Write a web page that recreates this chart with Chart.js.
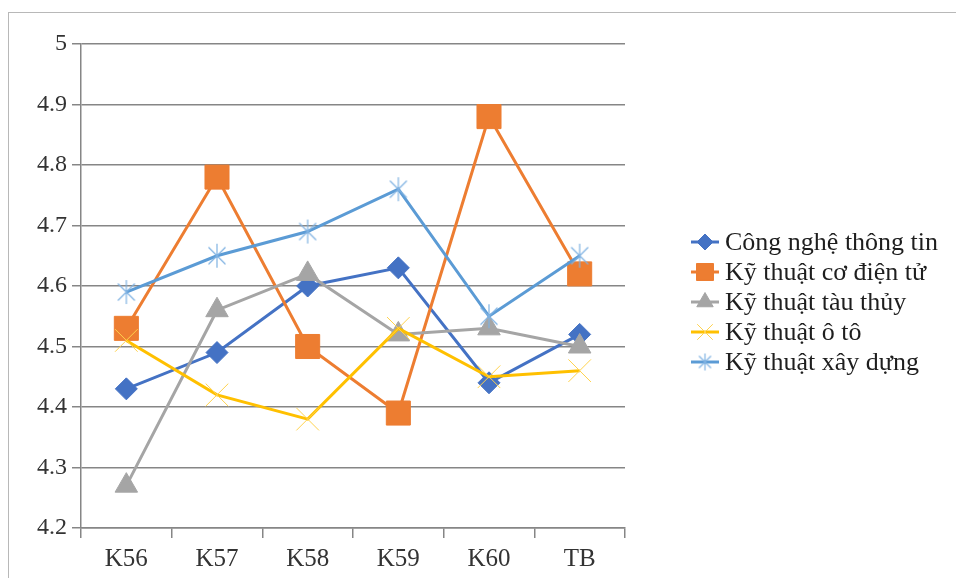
<!DOCTYPE html>
<html>
<head>
<meta charset="utf-8">
<script src="https://cdn.jsdelivr.net/npm/chart.js@4/dist/chart.umd.min.js"></script>
<style>
  html, body { margin: 0; padding: 0; background: #fff; }
  #wrap { width: 956px; height: 578px; position: relative; }
</style>
</head>
<body>
<div id="wrap"><canvas id="c" width="956" height="578"></canvas></div>
<script>
// Cohorts and the average column
const categories = ['K56', 'K57', 'K58', 'K59', 'K60', 'TB'];
const seriesNames = [
  'Công nghệ thông tin',
  'Kỹ thuật cơ điện tử',
  'Kỹ thuật tàu thủy',
  'Kỹ thuật ô tô',
  'Kỹ thuật xây dựng'
];
const cnttValues     = [4.43, 4.49, 4.60, 4.63, 4.44, 4.52];
const coDienTuValues = [4.53, 4.78, 4.50, 4.39, 4.88, 4.62];
const tauThuyValues  = [4.27, 4.56, 4.62, 4.52, 4.53, 4.50];
const otoValues      = [4.51, 4.42, 4.38, 4.53, 4.45, 4.46];
const xayDungValues  = [4.59, 4.65, 4.69, 4.76, 4.55, 4.65];
const yTickLabels = ['4.2', '4.3', '4.4', '4.5', '4.6', '4.7', '4.8', '4.9', '5'];

const FONT = 'Liberation Serif, Times New Roman, serif';
const GRID = '#868686';

// Asterisk marker: an X with a vertical bar
function makeStar(color, r) {
  const s = Math.ceil(r * 2 + 4);
  const cv = document.createElement('canvas');
  cv.width = s; cv.height = s;
  const g = cv.getContext('2d');
  const c = s / 2, d = r * Math.SQRT1_2;
  g.strokeStyle = color; g.lineWidth = 1.2;
  g.beginPath();
  g.moveTo(c, c - r); g.lineTo(c, c + r);
  g.moveTo(c - d, c - d); g.lineTo(c + d, c + d);
  g.moveTo(c - d, c + d); g.lineTo(c + d, c - d);
  g.stroke();
  return cv;
}
const starBig = makeStar('#7fb2e2', 12);
const starSmall = makeStar('#7fb2e2', 8.5);

const seriesStyle = [
  { color: '#4472C4', pointStyle: 'rectRot',  r: 11,  lr: 8,   bw: 1 },
  { color: '#ED7D31', pointStyle: 'rect',     r: 17,  lr: 12,  bw: 1 },
  { color: '#A5A5A5', pointStyle: 'triangle', r: 13,  lr: 9.5, bw: 1 },
  { color: '#FFC000', pointStyle: 'crossRot', r: 16,  lr: 11,  bw: 1, pointColor: '#ffd24d' },
  { color: '#5B9BD5', pointStyle: starBig,    r: 12,  lr: 8.5, bw: 1, legendImg: starSmall }
];
const seriesValues = [cnttValues, coDienTuValues, tauThuyValues, otoValues, xayDungValues];

const datasets = seriesValues.map((vals, i) => {
  const st = seriesStyle[i];
  return {
    label: seriesNames[i],
    data: vals,
    borderColor: st.color,
    backgroundColor: st.color,
    borderWidth: 3,
    pointStyle: st.pointStyle,
    pointRadius: st.r,
    pointHoverRadius: st.r,
    pointBorderWidth: st.bw,
    pointBackgroundColor: st.color,
    pointBorderColor: st.pointColor || st.color,
    tension: 0,
    order: seriesValues.length - i
  };
});

// Light outer frame
const framePlugin = {
  id: 'frame',
  beforeDraw(chart) {
    const ctx = chart.ctx;
    ctx.save();
    ctx.strokeStyle = '#b8b8b8';
    ctx.lineWidth = 1;
    ctx.strokeRect(8.5, 12.5, chart.width, chart.height);
    ctx.restore();
  }
};

// Legend on the right: short line with the series marker, then the name
const sideLegend = {
  id: 'sideLegend',
  afterDraw(chart) {
    const ctx = chart.ctx;
    const area = chart.chartArea;
    const x0 = area.right + 66, x1 = area.right + 94, tx = area.right + 100;
    const yStart = 242, step = 30;
    ctx.save();
    chart.data.datasets.forEach((ds, i) => {
      const st = seriesStyle[i];
      const y = yStart + i * step;
      ctx.strokeStyle = st.color;
      ctx.lineWidth = 3;
      ctx.beginPath();
      ctx.moveTo(x0, y); ctx.lineTo(x1, y);
      ctx.stroke();
      const cx = (x0 + x1) / 2;
      if (st.legendImg) {
        ctx.drawImage(st.legendImg, cx - st.legendImg.width / 2, y - st.legendImg.height / 2);
      } else {
        ctx.fillStyle = st.color;
        ctx.strokeStyle = st.pointColor || st.color;
        ctx.lineWidth = 1;
        Chart.helpers.drawPoint(ctx, { pointStyle: st.pointStyle, radius: st.lr, borderWidth: 1, rotation: 0 }, cx, y);
      }
      ctx.fillStyle = '#1e1e1e';
      ctx.font = '26px ' + FONT;
      ctx.textBaseline = 'middle';
      ctx.textAlign = 'left';
      ctx.fillText(ds.label, tx, y + 1);
    });
    ctx.restore();
  }
};

new Chart(document.getElementById('c'), {
  type: 'line',
  data: { labels: categories, datasets },
  options: {
    responsive: false,
    animation: false,
    devicePixelRatio: 1,
    layout: { padding: { top: 44, right: 331, bottom: 0, left: 0 } },
    plugins: { legend: { display: false }, tooltip: { enabled: false } },
    scales: {
      x: {
        offset: true,
        grid: { offset: true, drawOnChartArea: false, drawTicks: true, tickLength: 10, color: GRID, lineWidth: 1.5 },
        border: { display: true, color: GRID, width: 1.5 },
        ticks: { font: { family: FONT, size: 25 }, color: '#333', padding: 6, maxRotation: 0, autoSkip: false },
        afterFit(scale) { scale.height = 50; }
      },
      y: {
        min: 4.2,
        max: 5,
        grid: { color: GRID, lineWidth: 1.5, drawTicks: true, tickLength: 9 },
        border: { display: true, color: GRID, width: 1.5 },
        ticks: {
          stepSize: 0.1,
          padding: 5,
          font: { family: FONT, size: 24 },
          color: '#333',
          callback: (v) => yTickLabels[Math.round((v - 4.2) * 10)]
        },
        afterFit(scale) { scale.width = 81; }
      }
    }
  },
  plugins: [framePlugin, sideLegend]
});
</script>
</body>
</html>
